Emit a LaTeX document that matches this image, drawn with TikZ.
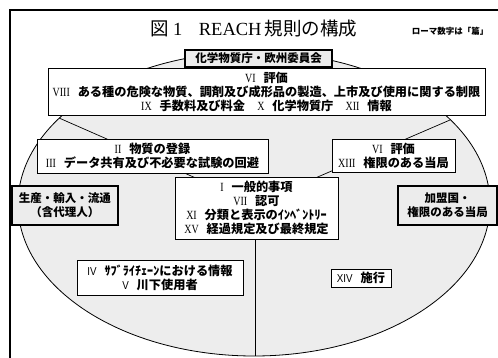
\documentclass[tikz,border=0pt]{standalone}
\usepackage{fontspec}
\setmainfont{Liberation Serif}
\setsansfont{Liberation Sans}
\newfontfamily\jp{Noto Sans CJK JP}
\newcommand\RN[1]{{\rmfamily\mdseries\fontsize{12.5}{14}\selectfont\scalebox{0.8}[1]{#1}}\hspace{0.65em}}
\newcommand\RNs[1]{{\sffamily\mdseries\fontsize{11.5}{14}\selectfont\scalebox{0.85}[1]{#1}}\hspace{0.65em}}
\begin{document}
\begin{tikzpicture}[x=1pt,y=-1pt,
  box/.style={draw=black, line width=0.8pt, fill=white, inner sep=0pt, align=center,
    font=\jp\bfseries\fontsize{12.2}{14}\selectfont},
  heavybox/.style={draw=black, line width=2.6pt, fill=gray!15, inner sep=0pt, align=center,
    font=\jp\bfseries\fontsize{11.5}{14}\selectfont},
  divider/.style={draw=black, line width=0.7pt}]
\useasboundingbox (0,0) rectangle (498,358);
\clip (0,0) rectangle (498,358);
\fill[white] (0,0) rectangle (498,358);
% outer frame
\draw[line width=1.4pt] (10,10) rectangle (510,370);
% ellipse
\draw[line width=0.8pt, fill=gray!14] (254,204) ellipse [x radius=236, y radius=152];
% dividers
\coordinate (c) at (255,204);
\coordinate (pl) at (59,118);
\coordinate (pr) at (450,120);
\coordinate (pb) at (255,356);
\draw[divider] (c) -- (pl);
\draw[divider] (c) -- (pr);
\draw[divider] (c) -- (pb);
% title
\node (title) at (254,29) {\fontsize{18.5}{20}\selectfont{\jp 図}\hspace{0.2em}1\hspace{0.9em}REACH\,{\jp 規則の構成}};
\node (note) at (450,31) {\jp\bfseries\fontsize{8.5}{10}\selectfont ローマ数字は「篇」};
% boxes
\node[heavybox, minimum width=147pt, minimum height=17pt] (agency) at (258.5,58.5) {化学物質庁・欧州委員会};
\node[box, minimum width=437pt, minimum height=47pt] (top) at (266.5,91.5)
  {\RN{VI}評価\\ \RN{VIII}ある種の危険な物質、調剤及び成形品の製造、上市及び使用に関する制限\\
   \RN{IX}手数料及び料金\hspace{1em}\RN{X}化学物質庁\hspace{1em}\RN{XII}情報};
\node[box, minimum width=231pt, minimum height=34pt] (reg) at (152.5,156)
  {\RN{II}物質の登録\\ \RN{III}データ共有及び不必要な試験の回避};
\node[box, minimum width=123pt, minimum height=33pt] (eval) at (393.5,155.5)
  {\RN{VI}評価\\ \RN{XIII}権限のある当局};
\node[box, minimum width=163pt, minimum height=62pt] (gen) at (256.5,208)
  {\RN{I}一般的事項\\ \RN{VII}認可\\ \RN{XI}分類と表示のｲﾝﾍﾞﾝﾄﾘｰ\\ \RN{XV}経過規定及び最終規定};
\node[heavybox, minimum width=106pt, minimum height=39pt] (industry) at (65,205.5)
  {生産・輸入・流通\\（含代理人）};
\node[heavybox, minimum width=99pt, minimum height=39pt] (members) at (447.5,205.5)
  {加盟国・\\権限のある当局};
\node[box, minimum width=166pt, minimum height=35pt] (supply) at (160,277.5)
  {\RNs{IV}ｻﾌﾞﾗｲﾁｪｰﾝにおける情報\\ \RNs{V}川下使用者};
\node[box, minimum width=60pt, minimum height=18pt] (enf) at (361,278)
  {\RNs{XIV}施行};
\end{tikzpicture}
\end{document}
